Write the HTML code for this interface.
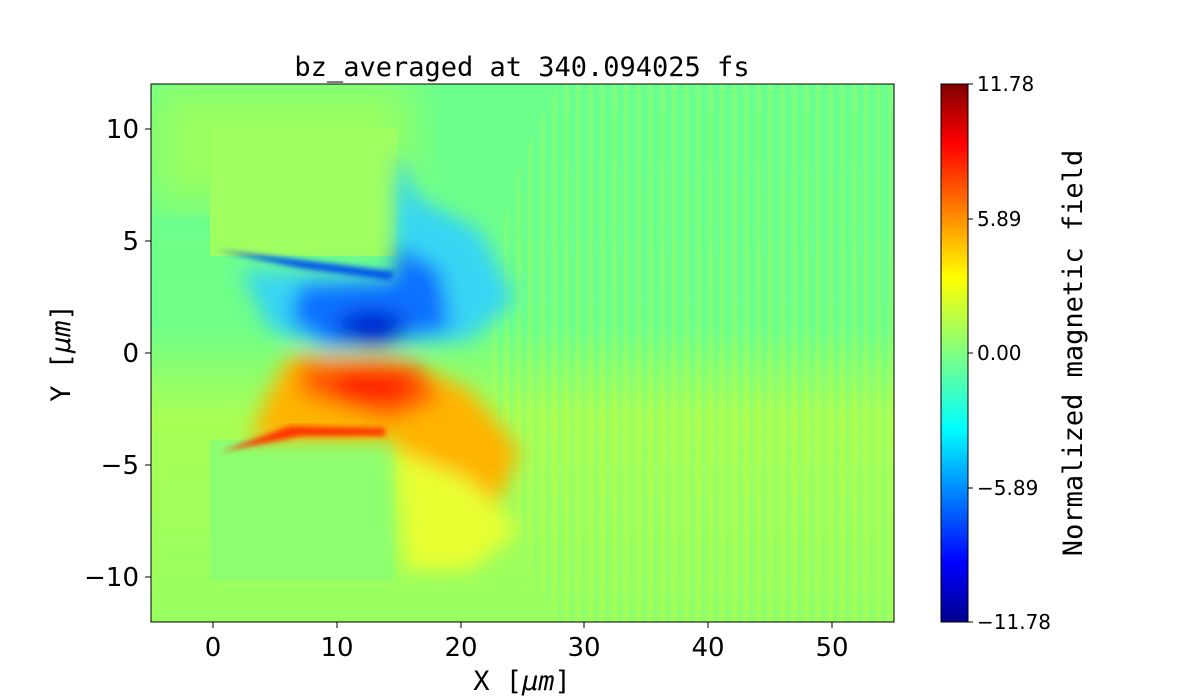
<!DOCTYPE html>
<html><head><style>
html,body{margin:0;background:#fff;overflow:hidden;width:1200px;height:700px;}
svg{display:block;}
text.m{font-family:"DejaVu Sans Mono","Liberation Mono",monospace;}
text.s{font-family:"DejaVu Sans","Liberation Sans",sans-serif;}
</style></head><body>
<svg width="1200" height="700" viewBox="0 0 1200 700" xmlns="http://www.w3.org/2000/svg">
<defs>
<filter id="b8"><feGaussianBlur stdDeviation="10"/></filter>
<filter id="b4"><feGaussianBlur stdDeviation="3"/></filter>
<filter id="b15"><feGaussianBlur stdDeviation="20"/></filter>
<linearGradient id="bg" x1="0" y1="0" x2="0" y2="1">
<stop offset="0" stop-color="#6cff8c"/><stop offset="0.45" stop-color="#70ff88"/>
<stop offset="0.62" stop-color="#a8ff55"/><stop offset="1" stop-color="#98ff60"/>
</linearGradient>
<linearGradient id="jet" x1="0" y1="1" x2="0" y2="0">
<stop offset="0" stop-color="#00008f"/><stop offset="0.11" stop-color="#0000ff"/>
<stop offset="0.36" stop-color="#00ffff"/><stop offset="0.5" stop-color="#80ff80"/>
<stop offset="0.64" stop-color="#ffff00"/><stop offset="0.89" stop-color="#ff0000"/>
<stop offset="1" stop-color="#800000"/>
</linearGradient>
<pattern id="str" x="0" y="0" width="12" height="538" patternUnits="userSpaceOnUse">
<rect x="0" y="0" width="5" height="538" fill="#c8ff40" opacity="0.18"/>
<rect x="6" y="0" width="4" height="538" fill="#50ffb0" opacity="0.15"/>
</pattern>
<clipPath id="pc"><rect x="151" y="84" width="743" height="538"/></clipPath>
</defs>
<g clip-path="url(#pc)">
<rect x="151" y="84" width="743" height="538" fill="url(#bg)"/>
<rect x="151" y="84" width="260" height="120" fill="#98ff60" filter="url(#b15)"/>
<ellipse cx="820" cy="353" rx="330" ry="440" fill="url(#str)"/>
<rect x="210" y="128" width="187" height="128" fill="#a0ff60"/>
<rect x="210" y="440" width="185" height="140" fill="#8cff70"/>
<g filter="url(#b8)">
<path d="M397 150 L420 200 L480 230 L515 300 L470 340 L330 350 L270 330 L240 270 L395 275 Z" fill="#30d0ff" opacity="0.9"/>
<path d="M395 245 L440 270 L450 330 L330 345 L290 320 L300 285 L395 280 Z" fill="#0a70ff"/>
<ellipse cx="372" cy="328" rx="35" ry="18" fill="#0020d0"/>
<path d="M290 355 L400 358 L470 390 L520 450 L500 500 L410 530 L395 440 L250 440 L270 390 Z" fill="#ffb400"/>
<path d="M300 362 L420 364 L440 400 L390 420 L300 395 Z" fill="#ff6000"/>
<ellipse cx="372" cy="385" rx="42" ry="20" fill="#ff2800"/>
<path d="M395 450 L470 480 L520 530 L470 570 L405 570 Z" fill="#e8ff30"/>
</g>
<path d="M215 250 L300 268 L390 280 L395 272 L300 260 Z" fill="#0050f0" filter="url(#b4)"/>
<path d="M220 452 L300 436 L385 436 L385 428 L290 426 Z" fill="#ff3000" filter="url(#b4)"/>
</g>
<rect x="151" y="84" width="743" height="538" fill="none" stroke="#000" stroke-width="1"/>
<g stroke="#000" stroke-width="1">
<line x1="213" y1="622" x2="213" y2="628"/><line x1="337" y1="622" x2="337" y2="628"/>
<line x1="461" y1="622" x2="461" y2="628"/><line x1="584" y1="622" x2="584" y2="628"/>
<line x1="708" y1="622" x2="708" y2="628"/><line x1="832" y1="622" x2="832" y2="628"/>
<line x1="145" y1="129" x2="151" y2="129"/><line x1="145" y1="241" x2="151" y2="241"/>
<line x1="145" y1="353" x2="151" y2="353"/><line x1="145" y1="465" x2="151" y2="465"/>
<line x1="145" y1="577" x2="151" y2="577"/>
</g>
<g font-size="26" fill="#000">
<text class="s" x="213" y="656" text-anchor="middle">0</text><text class="s" x="337" y="656" text-anchor="middle">10</text>
<text class="s" x="461" y="656" text-anchor="middle">20</text><text class="s" x="584" y="656" text-anchor="middle">30</text>
<text class="s" x="708" y="656" text-anchor="middle">40</text><text class="s" x="832" y="656" text-anchor="middle">50</text>
<text class="s" x="139" y="138" text-anchor="end">10</text><text class="s" x="139" y="250" text-anchor="end">5</text>
<text class="s" x="139" y="362" text-anchor="end">0</text><text class="s" x="139" y="474" text-anchor="end">−5</text>
<text class="s" x="139" y="586" text-anchor="end">−10</text>
</g>
<text class="m" x="522" y="76" font-size="27" text-anchor="middle">bz_averaged at 340.094025 fs</text>
<text class="m" x="522" y="690" font-size="27" text-anchor="middle">X [<tspan font-style="italic">μm</tspan>]</text>
<text class="m" transform="translate(70,353) rotate(-90)" font-size="27" text-anchor="middle">Y [<tspan font-style="italic">μm</tspan>]</text>
<rect x="941" y="84" width="27" height="538" fill="url(#jet)" stroke="#000" stroke-width="1"/>
<g stroke="#000"><line x1="968" y1="84" x2="973" y2="84"/><line x1="968" y1="219" x2="973" y2="219"/>
<line x1="968" y1="353" x2="973" y2="353"/><line x1="968" y1="488" x2="973" y2="488"/><line x1="968" y1="622" x2="973" y2="622"/></g>
<g font-size="20">
<text class="s" x="977" y="91">11.78</text><text class="s" x="977" y="226">5.89</text><text class="s" x="977" y="360">0.00</text>
<text class="s" x="977" y="495">−5.89</text><text class="s" x="977" y="629">−11.78</text>
</g>
<text class="m" transform="translate(1082,353) rotate(-90)" font-size="27" text-anchor="middle">Normalized magnetic field</text>
</svg>
</body></html>
